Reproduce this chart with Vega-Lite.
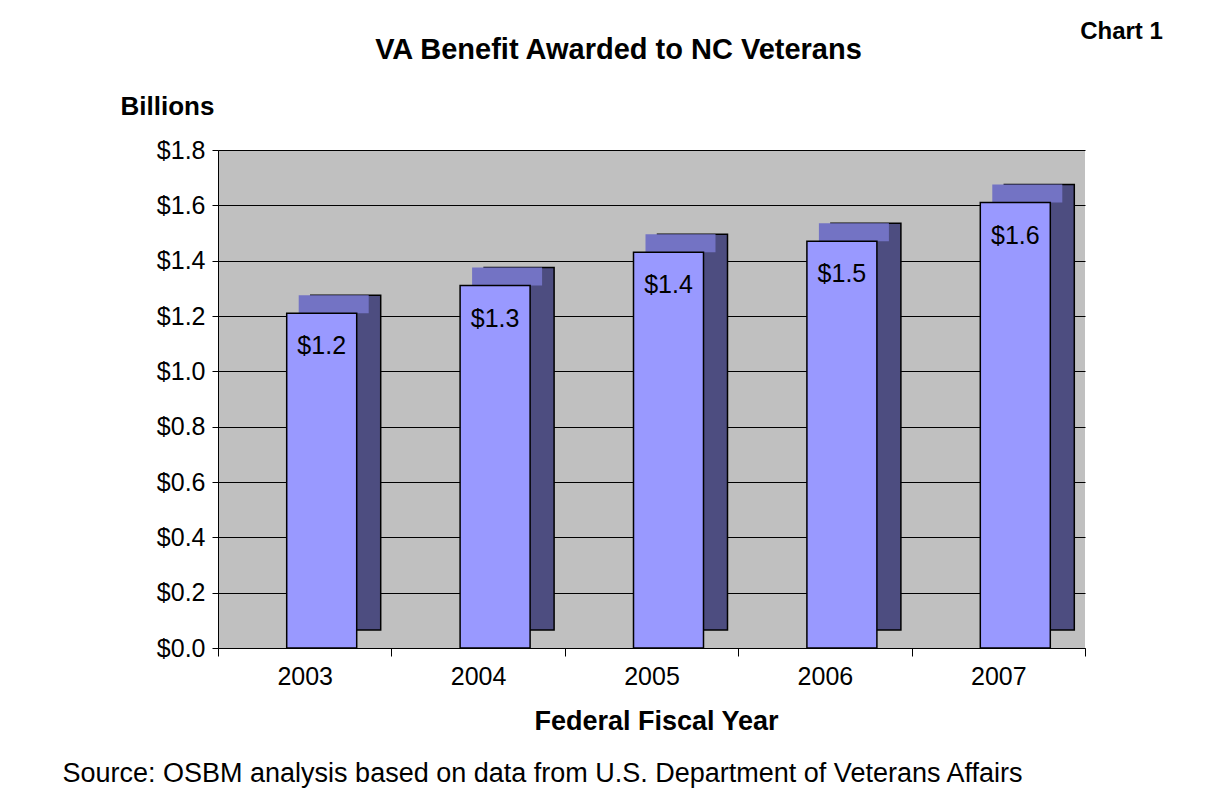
{
  "$schema": "https://vega.github.io/schema/vega-lite/v6.json",
  "width": 867,
  "height": 498,
  "autosize": {"type": "none"},
  "padding": {"left": 218, "top": 150, "right": 132, "bottom": 154},
  "background": "white",
  "config": {
    "font": "Liberation Sans",
    "view": {"fill": "#c0c0c0", "stroke": null}
  },
  "title": {
    "text": "VA Benefit Awarded to NC Veterans",
    "fontSize": 29,
    "fontWeight": "bold",
    "font": "Liberation Sans",
    "color": "black",
    "anchor": "middle",
    "frame": "group",
    "baseline": "alphabetic",
    "dx": -33,
    "offset": -69
  },
  "data": {
    "values": [
      {"year": "2003", "value": 1.21},
      {"year": "2004", "value": 1.31},
      {"year": "2005", "value": 1.43},
      {"year": "2006", "value": 1.47},
      {"year": "2007", "value": 1.61}
    ]
  },
  "resolve": {"axis": {"x": "independent", "y": "independent"}},
  "layer": [
    {
      "mark": {"type": "bar", "color": "#4d4d80", "stroke": "black", "strokeWidth": 1.5, "width": 70, "xOffset": 41, "yOffset": -18},
      "encoding": {
        "x": {
          "field": "year", "type": "ordinal",
          "scale": {"paddingInner": 0, "paddingOuter": 0},
          "axis": {
            "orient": "bottom",
            "labelAngle": 0,
            "labelFontSize": 25,
            "labelColor": "black",
            "labelPadding": 8,
            "domainColor": "black",
            "domainWidth": 1,
            "tickColor": "black",
            "tickBand": "extent",
            "tickSize": 8,
            "title": "Federal Fiscal Year",
            "titleFontSize": 27,
            "titleFontWeight": "bold",
            "titleColor": "black",
            "titleBaseline": "alphabetic",
            "titleY": 81,
            "titleX": 438
          }
        },
        "y": {
          "field": "value", "type": "quantitative",
          "scale": {"domain": [0, 1.8], "nice": false},
          "axis": {
            "orient": "left",
            "values": [0, 0.2, 0.4, 0.6, 0.8, 1.0, 1.2, 1.4, 1.6, 1.8],
            "format": "$.1f",
            "grid": true,
            "gridColor": "black",
            "gridWidth": 1,
            "gridOpacity": 1,
            "domainColor": "black",
            "domainWidth": 1,
            "tickColor": "black",
            "tickSize": 6,
            "labelPadding": 7,
            "labelFontSize": 25,
            "labelColor": "black",
            "title": "Billions",
            "titleAngle": 0,
            "titleX": -51,
            "titleY": -36,
            "titleAlign": "center",
            "titleBaseline": "alphabetic",
            "titleFontSize": 26,
            "titleFontWeight": "bold",
            "titleColor": "black"
          }
        }
      }
    },
    {
      "mark": {"type": "tick", "color": "#7373c4", "opacity": 1, "size": 70, "thickness": 18, "xOffset": 29, "yOffset": -9},
      "encoding": {
        "x": {"field": "year", "type": "ordinal", "axis": null},
        "y": {"field": "value", "type": "quantitative", "axis": null}
      }
    },
    {
      "mark": {"type": "bar", "color": "#9999ff", "stroke": "black", "strokeWidth": 1.5, "width": 70, "xOffset": 17},
      "encoding": {
        "x": {"field": "year", "type": "ordinal", "axis": null},
        "y": {"field": "value", "type": "quantitative", "axis": null}
      }
    },
    {
      "mark": {"type": "text", "fontSize": 25, "color": "black", "baseline": "middle", "align": "center", "xOffset": 17, "dy": 33},
      "encoding": {
        "x": {
          "field": "year", "type": "ordinal",
          "axis": {
            "orient": "bottom",
            "labels": false,
            "ticks": false,
            "domain": false,
            "grid": false,
            "title": "Source: OSBM analysis based on data from U.S. Department of Veterans Affairs",
            "titleFontSize": 27,
            "titleFontWeight": "normal",
            "titleColor": "black",
            "titleAlign": "left",
            "titleBaseline": "alphabetic",
            "titleX": -156,
            "titleY": 133
          }
        },
        "y": {
          "field": "value", "type": "quantitative",
          "axis": {
            "orient": "right",
            "labels": false,
            "ticks": false,
            "domain": false,
            "grid": false,
            "title": "Chart 1",
            "titleAngle": 0,
            "titleFontSize": 24,
            "titleFontWeight": "bold",
            "titleColor": "black",
            "titleAlign": "center",
            "titleBaseline": "alphabetic",
            "titleX": 36,
            "titleY": -112
          }
        },
        "text": {"field": "value", "type": "quantitative", "format": "$.1f"}
      }
    }
  ]
}
